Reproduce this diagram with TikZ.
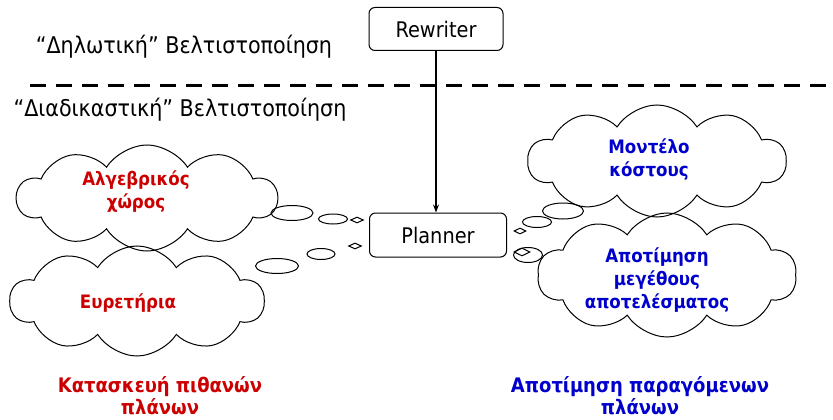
\documentclass[tikz,border=0pt]{standalone}
\usepackage{fontspec}
\setmainfont{DejaVu Sans Condensed}
\usetikzlibrary{shapes.symbols,shapes.geometric,arrows.meta}
\definecolor{redtxt}{HTML}{CC0000}
\definecolor{bluetxt}{HTML}{0000CC}
\tikzset{
  procbox/.style={draw, line width=1pt, rounded corners=6pt, minimum width=134, minimum height=43, font=\fontsize{21.5}{24}\selectfont},
  thought/.style={cloud, draw, line width=1pt, cloud puffs=10, cloud puff arc=115, cloud ignores aspect, inner sep=0pt},
  thoughttext/.style={align=center, font=\bfseries\fontsize{18.5}{23}\selectfont},
  bubble/.style={ellipse, draw, line width=1pt, inner sep=0pt},
  tinybubble/.style={diamond, draw, line width=1pt, inner sep=0pt, minimum width=13, minimum height=6},
  heading/.style={font=\fontsize{23}{25}\selectfont},
  caption/.style={align=center, font=\bfseries\fontsize{20}{22}\selectfont}
}
\begin{document}
\begin{tikzpicture}[x=1pt,y=-1pt]
\useasboundingbox (0,0) rectangle (833,420);

% optimisation levels
\node[heading] (decl) at (184,47) {“Δηλωτική” Βελτιστοποίηση};
\node[heading] (proc) at (180,110) {“Διαδικαστική” Βελτιστοποίηση};
\coordinate (sepL) at (30,86);
\coordinate (sepR) at (833,86);
\draw[line width=3pt, dash pattern=on 16pt off 10pt] (sepL) -- (sepR);

% components
\node[procbox] (rewriter) at (436,29) {Rewriter};
\node[procbox, minimum width=137, minimum height=44] (planner) at (438,235) {Planner};
\draw[line width=1.2pt, -{Stealth[length=8pt,width=6pt]}] (rewriter.south -| 436,0) -- (planner.north -| 436,0);

% plan construction clouds
\node[thought, minimum width=260, minimum height=106] (algebra) at (147,198) {};
\node[thoughttext, text=redtxt] (algebraText) at (136,192) {Αλγεβρικός\\χώρος};
\node[thought, minimum width=254, minimum height=110] (indexes) at (137,301) {};
\node[thoughttext, text=redtxt] (indexesText) at (128,303) {Ευρετήρια};
\node[bubble, minimum width=42, minimum height=15] (a1) at (292,213) {};
\node[bubble, minimum width=29, minimum height=10] (a2) at (333,219) {};
\node[tinybubble] (a3) at (357,220) {};
\node[bubble, minimum width=43, minimum height=15] (i1) at (277,266) {};
\node[bubble, minimum width=28, minimum height=11] (i2) at (321,254) {};
\node[tinybubble] (i3) at (355,246) {};

% plan evaluation clouds
\node[thought, minimum width=258, minimum height=112] (cost) at (657,161) {};
\node[thoughttext, text=bluetxt] (costText) at (649,160) {Μοντέλο\\κόστους};
\node[thought, minimum width=259, minimum height=124] (size) at (667,275) {};
\node[thoughttext, text=bluetxt] (sizeText) at (657,280) {Αποτίμηση\\μεγέθους\\αποτελέσματος};
\node[bubble, minimum width=41, minimum height=16] (c1) at (563,211) {};
\node[bubble, minimum width=29, minimum height=11] (c2) at (537,222) {};
\node[tinybubble, minimum width=12] (c3) at (520,231) {};
\node[bubble, minimum width=29, minimum height=15] (s1) at (528,255) {};
\node[tinybubble, minimum width=16, minimum height=8] (s2) at (522,252) {};

% captions
\node[caption, text=redtxt] (build) at (160,396) {Κατασκευή πιθανών\\πλάνων};
\node[caption, text=bluetxt] (eval) at (640,396) {Αποτίμηση παραγόμενων\\πλάνων};
\end{tikzpicture}
\end{document}
